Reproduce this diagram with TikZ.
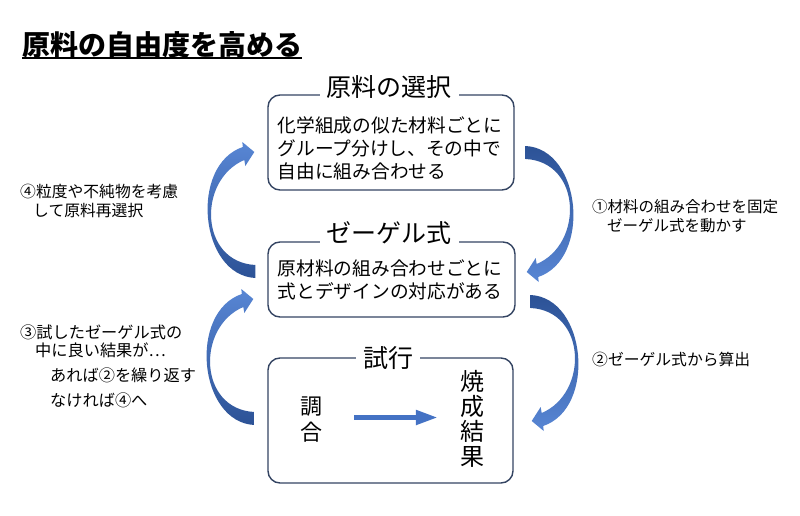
\documentclass[tikz,border=0pt]{standalone}
\usepackage{fontspec}
\setmainfont{Noto Sans CJK JP}
\usepackage{tikz}
\usetikzlibrary{arrows.meta}
\usetikzlibrary{calc}

\definecolor{framecol}{RGB}{52,68,98}
\definecolor{arrowlight}{RGB}{88,134,212}
\definecolor{arrowdark}{RGB}{44,82,150}
\definecolor{arrowmid}{RGB}{68,114,196}

\tikzset{
  bendshade/.style={top color=arrowlight, bottom color=arrowdark},
  bendL/.pic={
    \shade[bendshade]
      (0,6.5) .. controls (-56,3.5) and (-66,-106.5) .. (-12.5,-124.5)
      -- (-13,-129.5) -- (-1,-119.5) -- (-10,-105.5) -- (-11,-111.5)
      .. controls (-58,-91.5) and (-56,-9.5) .. (0,-6.5) -- cycle;
  }
}

\begin{document}
\begin{tikzpicture}[x=1pt, y=-1pt,
  every node/.style={inner sep=0pt, text=black},
  frame/.style={draw=framecol, line width=1.4pt, rounded corners=12pt},
  heading/.style={fill=white, inner xsep=7pt, inner ysep=1pt, font=\fontsize{25}{25}\selectfont},
  body/.style={align=left, font=\fontsize{18.7}{23}\selectfont},
  note/.style={align=left, font=\fontsize{15.8}{19}\selectfont},
  flow/.style={draw=arrowmid, line width=5pt, -{Triangle[length=22pt,width=14pt]}}]

\useasboundingbox (0,0) rectangle (800,516);

\node[anchor=south west, font=\fontsize{28}{28}\selectfont\bfseries] (ttl) at (22,58) {原料の自由度を高める};
\draw[line width=1.8pt] (ttl.south west) -- (ttl.south east);

\node[frame, minimum width=246pt, minimum height=95pt] (box1) at (391,142.5) {};
\node[frame, minimum width=247pt, minimum height=75pt] (box2) at (391.5,279.5) {};
\node[frame, minimum width=245pt, minimum height=125pt] (box3) at (390.5,420.5) {};

\node[heading] (h1) at (389,87.5) {原料の選択};
\node[heading] (h2) at (389,233) {ゼーゲル式};
\node[heading] (h3) at (388,358) {試行};

\node[body] (b1) at (390,148) {化学組成の似た材料ごとに\\グループ分けし、その中で\\自由に組み合わせる};
\node[body] (b2) at (390,280) {原材料の組み合わせごとに\\式とデザインの対応がある};

\node[align=center, font=\fontsize{22}{26}\selectfont] (mix) at (311,420) {調\\合};
\node[align=center, font=\fontsize{24}{25}\selectfont] (fire) at (472,419) {焼\\成\\結\\果};
\draw[flow] ($(mix.east)+(32,-2.5)$) -- ($(fire.west)+(-22,-1.5)$);

\pic at ($(box2.west)+(-12,-8)$) {bendL};
\pic at ($(box3.west)+(-13,-2)$) {bendL};
\pic[rotate=180, bendshade/.style={top color=arrowdark, bottom color=arrowlight}] at ($(box1.east)+(11,10)$) {bendL};
\pic[rotate=180, bendshade/.style={top color=arrowdark, bottom color=arrowlight}] at ($(box2.east)+(15,22)$) {bendL};

\node[note, anchor=west] (n4) at (20,201) {④粒度や不純物を考慮\\\hspace*{13pt}して原料再選択};
\node[note, anchor=west, font=\fontsize{16.2}{18}\selectfont] (n3) at (20,366.5) {③試したゼーゲル式の\\\hspace*{15pt}中に良い結果が…\\[7.5pt]\hspace*{30pt}あれば②を繰り返す\\[7pt]\hspace*{30pt}なければ④へ};
\node[note, anchor=west, font=\fontsize{15.5}{19}\selectfont] (n1) at (592,216) {①材料の組み合わせを固定\\\hspace*{15pt}ゼーゲル式を動かす};
\node[note, anchor=west] (n2) at (592,359) {②ゼーゲル式から算出};

\end{tikzpicture}
\end{document}
